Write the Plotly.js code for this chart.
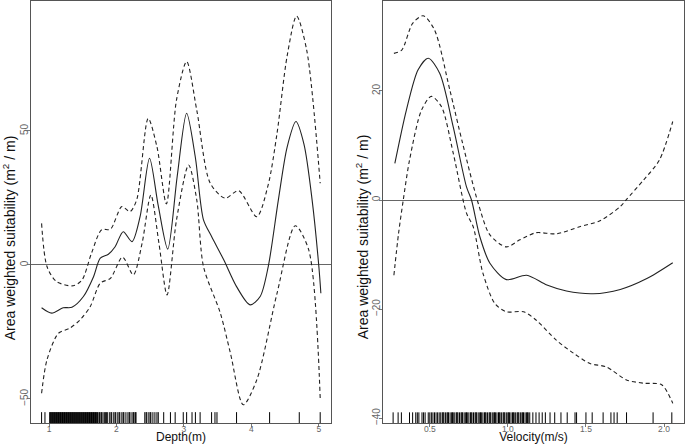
<!DOCTYPE html>
<html>
<head>
<meta charset="utf-8">
<script src="https://cdn.plot.ly/plotly-3.0.1.min.js"></script>
<style>html,body{margin:0;padding:0;background:#fff}</style>
</head>
<body>
<div id="chart" style="width:685px;height:444px"></div>
<script>
// smooth term for depth: fit and upper / lower bands
var depthX   = [0.89, 1.04, 1.21, 1.34, 1.51, 1.66, 1.76, 1.88, 1.98, 2.10, 2.23, 2.35, 2.49, 2.62, 2.76, 2.90, 3.04, 3.17, 3.29, 3.41, 3.59, 3.78, 3.98, 4.13, 4.25, 4.40, 4.53, 4.66, 4.78, 4.90, 5.00, 5.03];
var depthFit = [-16, -18, -16, -15.8, -11.8, -4.4, 2.5, 4, 6.8, 12.4, 8.7, 18, 39.8, 22, 5.9, 33, 56.6, 40, 16.8, 10.6, 1.9, -8.1, -14.9, -11.8, -0.6, 24.3, 44, 53.5, 45, 24.3, -0.6, -10.6];

var depthUpX = [0.89, 0.97, 1.11, 1.36, 1.49, 1.63, 1.78, 1.91, 2.08, 2.20, 2.30, 2.47, 2.60, 2.74, 2.89, 3.04, 3.19, 3.39, 3.61, 3.81, 4.08, 4.25, 4.38, 4.53, 4.67, 4.82, 5.02];
var depthUp  = [15.5, -0.6, -6.2, -7.8, -5.6, 4.4, 13.1, 13.3, 21.8, 19.9, 24.3, 54.7, 44.1, 22.8, 61.6, 75.9, 57.8, 30.5, 24.9, 27.7, 18.0, 30, 49.1, 78, 92.9, 80.2, 30.5];

var depthLoX = [0.89, 0.97, 1.14, 1.31, 1.46, 1.61, 1.76, 1.91, 2.09, 2.25, 2.38, 2.51, 2.63, 2.75, 2.89, 3.07, 3.19, 3.29, 3.54, 3.69, 3.88, 4.08, 4.38, 4.65, 4.85, 5.02];
var depthLo  = [-47.9, -35.4, -25.5, -23.6, -20.5, -15.6, -6.8, -5.0, 2.9, -3.7, 8.1, 26.1, 8, -11.2, 16.8, 37.3, 24.3, -0.6, -18.0, -33, -52.2, -42.9, -10.6, 14.6, 5.6, -49.7];

// smooth term for velocity
var velX   = [0.276, 0.35, 0.425, 0.49, 0.564, 0.65, 0.735, 0.767, 0.82, 0.885, 0.99, 1.12, 1.25, 1.375, 1.547, 1.72, 1.89, 2.056];
var velFit = [6.7, 16.5, 23.9, 26.0, 23.2, 13.4, 2.4, 0, -6.7, -11.6, -14.6, -13.8, -15.6, -16.7, -17.2, -16.4, -14.4, -11.5];

var velUpX = [0.27, 0.32, 0.39, 0.457, 0.53, 0.628, 0.71, 0.81, 0.885, 0.99, 1.077, 1.18, 1.31, 1.46, 1.59, 1.72, 1.76, 1.87, 1.97, 2.056];
var velUp  = [26.9, 27.5, 32.4, 33.8, 31.2, 20.2, 10.4, -0.6, -6.4, -8.6, -7.3, -6.0, -6.2, -4.9, -3.8, -1.2, 0.1, 3.7, 7.3, 14.4];

var velLoX = [0.27, 0.30, 0.33, 0.37, 0.447, 0.51, 0.575, 0.65, 0.735, 0.778, 0.84, 0.917, 0.99, 1.10, 1.18, 1.31, 1.42, 1.526, 1.63, 1.76, 1.87, 1.985, 2.056];
var velLo  = [-13.8, -6.1, 0, 7.3, 16.5, 19.0, 17.1, 8.6, -2.4, -4.9, -13.4, -19.0, -20.5, -20.5, -22.0, -25.7, -28.1, -30.0, -30.6, -33.0, -33.6, -33.9, -37.3];

// observed values (rug)
var depthRug = [0.89, 0.94, 1.01, 1.02, 1.03, 1.04, 1.05, 1.06, 1.07, 1.08, 1.09, 1.10, 1.11, 1.12, 1.13, 1.14, 1.15, 1.16, 1.17, 1.18, 1.19, 1.20, 1.21, 1.22, 1.23, 1.24, 1.25, 1.26, 1.27, 1.28, 1.29, 1.30, 1.31, 1.32, 1.33, 1.34, 1.35, 1.36, 1.37, 1.38, 1.39, 1.40, 1.41, 1.42, 1.43, 1.44, 1.45, 1.46, 1.47, 1.48, 1.49, 1.50, 1.51, 1.52, 1.53, 1.54, 1.55, 1.56, 1.57, 1.58, 1.59, 1.60, 1.61, 1.62, 1.63, 1.64, 1.65, 1.66, 1.67, 1.68, 1.69, 1.70, 1.71, 1.72, 1.74, 1.75, 1.77, 1.78, 1.80, 1.82, 1.84, 1.85, 1.87, 1.90, 1.92, 1.93, 1.96, 1.98, 1.99, 2.02, 2.04, 2.05, 2.08, 2.10, 2.11, 2.14, 2.17, 2.19, 2.20, 2.23, 2.25, 2.26, 2.28, 2.29, 2.42, 2.44, 2.45, 2.48, 2.50, 2.51, 2.54, 2.57, 2.60, 2.62, 2.70, 2.80, 2.87, 2.99, 3.04, 3.12, 3.17, 3.24, 3.41, 3.46, 3.49, 3.78, 4.27, 4.71, 5.02];
var velRug = [0.265, 0.297, 0.318, 0.37, 0.39, 0.41, 0.42, 0.43, 0.45, 0.46, 0.47, 0.49, 0.50, 0.51, 0.52, 0.53, 0.54, 0.55, 0.56, 0.57, 0.58, 0.585, 0.59, 0.60, 0.61, 0.615, 0.62, 0.63, 0.64, 0.645, 0.65, 0.66, 0.67, 0.675, 0.68, 0.69, 0.70, 0.705, 0.71, 0.72, 0.73, 0.735, 0.74, 0.75, 0.76, 0.765, 0.77, 0.78, 0.79, 0.795, 0.80, 0.81, 0.82, 0.825, 0.83, 0.84, 0.85, 0.855, 0.86, 0.87, 0.88, 0.885, 0.89, 0.90, 0.91, 0.915, 0.92, 0.93, 0.94, 0.945, 0.95, 0.96, 0.97, 0.975, 0.98, 0.99, 1.00, 1.005, 1.01, 1.02, 1.03, 1.035, 1.04, 1.05, 1.06, 1.065, 1.07, 1.08, 1.09, 1.095, 1.10, 1.11, 1.12, 1.125, 1.13, 1.14, 1.16, 1.18, 1.20, 1.22, 1.24, 1.27, 1.30, 1.34, 1.38, 1.43, 1.44, 1.50, 1.54, 1.61, 1.66, 1.68, 1.70, 1.76, 1.93, 2.05];

var yTitle = 'Area weighted suitability (m<sup>2</sup> / m)';

var ink = '#222';
function line(x, y, dash, xa, ya) {
  return {x: x, y: y, xaxis: xa, yaxis: ya, type: 'scatter', mode: 'lines',
    line: {color: ink, width: 1.1, dash: dash, shape: 'spline', smoothing: 0.8},
    hoverinfo: 'none'};
}
function rug(x, yv, xa, ya) {
  return {x: x, y: x.map(function () { return yv; }), xaxis: xa, yaxis: ya,
    type: 'scatter', mode: 'markers', hoverinfo: 'none',
    marker: {symbol: 'line-ns-open', size: 9, color: '#000', line: {color: '#000', width: 1}}};
}

var data = [
  line(depthX, depthFit, 'solid', 'x', 'y'),
  line(depthUpX, depthUp, '4px,3px', 'x', 'y'),
  line(depthLoX, depthLo, '4px,3px', 'x', 'y'),
  rug(depthRug, -57.3, 'x', 'y'),
  line(velX, velFit, 'solid', 'x2', 'y2'),
  line(velUpX, velUp, '4px,3px', 'x2', 'y2'),
  line(velLoX, velLo, '4px,3px', 'x2', 'y2'),
  rug(velRug, -40.1, 'x2', 'y2')
];

var fam = 'Liberation Sans, Arial';
var titleFont = {family: fam, size: 12, color: '#111'};
var axisBase = {
  showline: true, mirror: true, linecolor: '#555', linewidth: 1,
  showgrid: false, ticks: 'outside', ticklen: 3, tickcolor: '#777',
  tickfont: {family: fam, size: 8.5, color: '#666'}
};
function ax(extra) { return Object.assign(JSON.parse(JSON.stringify(axisBase)), extra); }

var layout = {
  width: 685, height: 444,
  margin: {l: 31, r: 1, t: 1, b: 21},
  showlegend: false,
  paper_bgcolor: '#fff', plot_bgcolor: '#fff',
  xaxis: ax({domain: [0, 0.4594], range: [0.733, 5.18], tickvals: [1, 2, 3, 4, 5],
    zeroline: false, ticklabelstandoff: -5,
    title: {text: 'Depth(m)', standoff: 3, font: titleFont}}),
  yaxis: ax({range: [-59, 98.5], tickvals: [-50, 0, 50], tickangle: -90,
    tickfont: {family: fam, size: 10, color: '#666'}, ticklabelstandoff: -5,
    zeroline: true, zerolinecolor: '#666', zerolinewidth: 1}),
  xaxis2: ax({domain: [0.539, 1], range: [0.2, 2.128], tickvals: [0.5, 1.0, 1.5, 2.0],
    ticktext: ['0.5', '1.0', '1.5', '2.0'], zeroline: false, anchor: 'y2', ticklabelstandoff: -5,
    title: {text: 'Velocity(m/s)', standoff: 3, font: titleFont}}),
  yaxis2: ax({range: [-40.9, 36.5], tickvals: [-40, -20, 0, 20], tickangle: -90, anchor: 'x2',
    tickfont: {family: fam, size: 10, color: '#666'}, ticklabelstandoff: -5,
    zeroline: true, zerolinecolor: '#666', zerolinewidth: 1}),
  annotations: [
    {text: yTitle, xref: 'paper', yref: 'paper', x: -0.0337, y: 0.44, textangle: -90,
     showarrow: false, xanchor: 'center', yanchor: 'middle', font: {family: fam, size: 14, color: '#111'}},
    {text: yTitle, xref: 'paper', yref: 'paper', x: 0.5069, y: 0.44, textangle: -90,
     showarrow: false, xanchor: 'center', yanchor: 'middle', font: {family: fam, size: 14, color: '#111'}}
  ]
};

Plotly.newPlot('chart', data, layout, {displayModeBar: false, staticPlot: true});
</script>
</body>
</html>
